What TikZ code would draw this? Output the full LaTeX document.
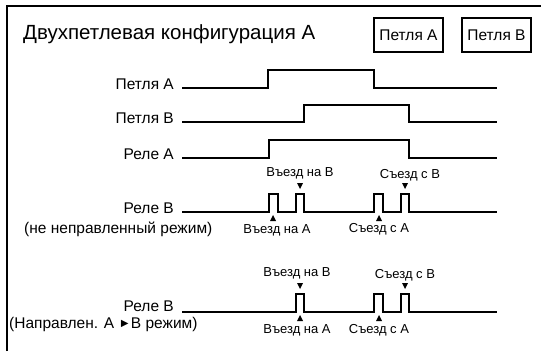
\documentclass[tikz,border=0pt]{standalone}
\usepackage{fontspec}
\setmainfont{Liberation Sans}
\begin{document}
\begin{tikzpicture}[x=1pt,y=-1pt,
  wave/.style={line width=1.2pt, line join=miter},
  frame/.style={line width=1.6pt},
  lbl/.style={font=\fontsize{15.5}{18}\selectfont, inner sep=0pt},
  small/.style={font=\fontsize{13}{15}\selectfont, inner sep=0pt},
  keybox/.style={draw, line width=1.2pt, minimum width=69pt, minimum height=34pt, inner sep=0pt, font=\fontsize{15.5}{18}\selectfont},
  tri/.style={fill=black}]
\useasboundingbox (0,0) rectangle (541,351);
% frame
\draw[frame] (7,351) -- (7,6) -- (541,6);
% title
\node[anchor=base west, inner sep=0pt, font=\fontsize{20.5}{24}\selectfont] (title) at (23,39) {Двухпетлевая конфигурация A};
\node[keybox] (keyA) at (408.5,35) {Петля A};
\node[keybox] (keyB) at (496.5,35) {Петля B};
% left labels
\node[lbl, anchor=base east] (lpa) at (174,89) {Петля A};
\node[lbl, anchor=base east] (lpb) at (174,123) {Петля B};
\node[lbl, anchor=base east] (lra) at (174,159) {Реле A};
\node[lbl, anchor=base east] (lrb1) at (174,213) {Реле B};
\node[lbl, anchor=west] (lrb1m) at (24,229) {(не неправленный режим)};
\node[lbl, anchor=base east] (lrb2) at (174,311) {Реле B};
\node[lbl, anchor=west] (lrb2m) at (9,324) {(Направлен. A {\fontsize{12.5}{12}\selectfont\raisebox{0.6pt}{►}}B режим)};
% waveforms
\draw[wave] (182,88) -- (268,88) -- (268,70) -- (374,70) -- (374,88) -- (497,88);
\draw[wave] (182,122) -- (304,122) -- (304,105) -- (409,105) -- (409,122) -- (497,122);
\draw[wave] (182,158) -- (269,158) -- (269,140) -- (409,140) -- (409,158) -- (497,158);
\draw[wave] (182,212) -- (269,212) -- (269,194) -- (278,194) -- (278,212)
  -- (296,212) -- (296,194) -- (304,194) -- (304,212)
  -- (374,212) -- (374,194) -- (383,194) -- (383,212)
  -- (401,212) -- (401,194) -- (409,194) -- (409,212) -- (497,212);
\draw[wave] (182,312)
  -- (296,312) -- (296,294) -- (304,294) -- (304,312)
  -- (374,312) -- (374,294) -- (383,294) -- (383,312)
  -- (401,312) -- (401,294) -- (409,294) -- (409,312) -- (497,312);
% markers row 1
\fill[tri] (273,215) -- (270,221) -- (276,221) -- cycle;
\fill[tri] (300,189) -- (297,183) -- (303,183) -- cycle;
\fill[tri] (379,215) -- (376,221) -- (382,221) -- cycle;
\fill[tri] (405,189) -- (402,183) -- (408,183) -- cycle;
\node[small] (eb1) at (300,173) {Въезд на B};
\node[small] (xb1) at (410,175) {Съезд с B};
\node[small] (ea1) at (277,230) {Въезд на A};
\node[small] (xa1) at (379,229) {Съезд с A};
% markers row 2
\fill[tri] (300,289) -- (297,283) -- (303,283) -- cycle;
\fill[tri] (300,315) -- (297,321) -- (303,321) -- cycle;
\fill[tri] (379,315) -- (376,321) -- (382,321) -- cycle;
\fill[tri] (405,289) -- (402,283) -- (408,283) -- cycle;
\node[small] (eb2) at (297,273) {Въезд на B};
\node[small] (xb2) at (405,275) {Съезд с B};
\node[small] (ea2) at (297,330) {Въезд на A};
\node[small] (xa2) at (379,330) {Съезд с A};
\end{tikzpicture}
\end{document}
